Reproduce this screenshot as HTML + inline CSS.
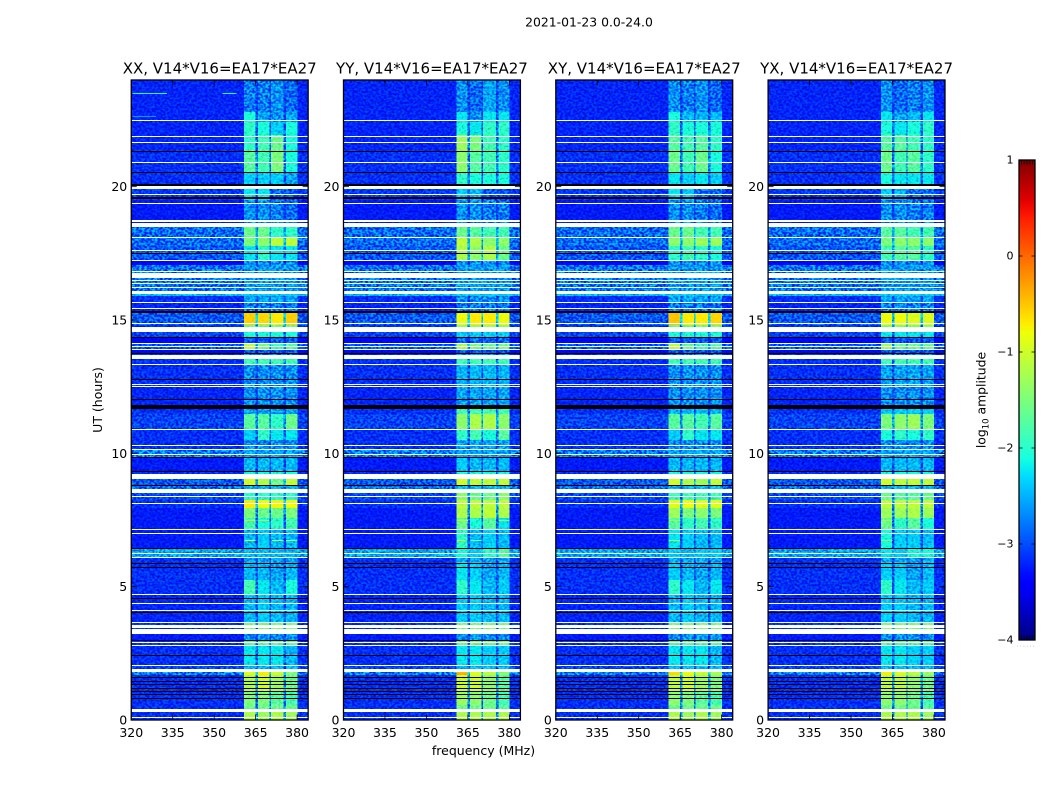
<!DOCTYPE html>
<html lang="en">
<head>
<meta charset="utf-8">
<title>2021-01-23 0.0-24.0</title>
<style>
html,body{margin:0;padding:0;background:#fff;width:1050px;height:800px;overflow:hidden}
svg{display:block}
text{font-family:"DejaVu Sans","Liberation Sans",sans-serif;fill:#000}
</style>
</head>
<body>
<svg id="figure" xmlns="http://www.w3.org/2000/svg" width="1050" height="800" viewBox="0 0 1050 800">
  <defs>
    <filter id="grain" x="0" y="0" width="100%" height="100%" color-interpolation-filters="sRGB">
      <feTurbulence type="fractalNoise" baseFrequency="0.38 0.46" numOctaves="1" seed="7"/>
      <feColorMatrix type="matrix" values="4 0 0 0 -1.5  4 0 0 0 -1.5  4 0 0 0 -1.5  0 0 0 0 1"/>
    </filter>
    <filter id="specks" x="0" y="0" width="100%" height="100%" color-interpolation-filters="sRGB">
      <feTurbulence type="fractalNoise" baseFrequency="0.42 0.5" numOctaves="1" seed="21"/>
      <feColorMatrix type="matrix" values="0 0 0 0 0  0 0 0 0 0  0 0 0 0 0.1  7 0 0 0 -3.9"/>
    </filter>
    <linearGradient id="jet-gradient" x1="0" y1="1" x2="0" y2="0"></linearGradient>
  </defs>
  <text x="589" y="26.5" text-anchor="middle" font-size="12.4">2021-01-23 0.0-24.0</text>
  <g id="panels"></g>
  <text transform="translate(102 400) rotate(-90)" text-anchor="middle" font-size="12.5">UT (hours)</text>
  <text x="483.5" y="755" text-anchor="middle" font-size="12.5">frequency (MHz)</text>
  <g id="colorbar"></g>
  <text transform="translate(985.5 400) rotate(-90)" text-anchor="middle" font-size="12.4">log<tspan font-size="8.5" dy="3">10</tspan><tspan dy="-3"> amplitude</tspan></text>
  <text x="1016.5" y="646.5" font-size="6" letter-spacing="1.35" style="fill:#999">......</text>
</svg>
<script>
// Chart data ---------------------------------------------------------------
const panelTitles = ["XX, V14*V16=EA17*EA27", "YY, V14*V16=EA17*EA27", "XY, V14*V16=EA17*EA27", "YX, V14*V16=EA17*EA27"];
const freqTicks = [320, 335, 350, 365, 380];
const hourTicks = [0, 5, 10, 15, 20];
const colorTicks = [-4, -3, -2, -1, 0, 1];
const colorMinorTicks = [0.16, 0.32, 0.5, 0.68, 0.84];
// Frequency extent of the plot and of the four bright sub-bands (MHz)
const freqRange = [320, 384];
const hourRange = [0, 24];
const subBands = [[360.8, 364.9], [365.8, 370], [370.5, 375.1], [376, 380.1]];
// Upper edge (UT hours) of each horizontal time band
const rowTopHours = [24,22.8,22.43,21.94,21.38,20.55,20.1,19.5,18.49,18.08,17.78,17.25,17.06,16.05,15.9,15.68,15.26,14.81,14.55,14.36,14.14,13.91,13.76,13.54,13.35,12.53,11.66,11.48,10.91,10.5,10.16,9.86,9.3,9.04,8.81,8.51,8.25,7.95,7.58,7.13,6.45,6.11,5.93,5.25,4.73,3.68,3.41,3,2.81,2.06,1.8,1.69,1.05,0.56,0.3];
// Off-band background log10 amplitude for each time band
const backgroundLevels = [-3.05,-3.05,-3.05,-3.05,-3,-3,-2.95,-3.1,-2.7,-2.7,-2.8,-3.2,-2.65,-2.3,-3,-3.05,-2.8,-3,-2.9,-3.2,-2.8,-3.2,-3,-3,-3,-3.05,-3,-2.9,-3,-3,-2.6,-3.1,-3,-2.8,-2.7,-2.9,-3,-3.1,-3.1,-3.1,-2.4,-3,-3,-3,-3.05,-3,-3.1,-3,-3,-2.9,-2.6,-3,-3,-3,-3];
// log10 amplitude in each of the four sub-bands, per time band
const xxLevels = [[-2.6,-2.6,-2.5,-2.7],[-2,-2.4,-2.5,-2.4],[-1.9,-2,-2.2,-2],[-1.9,-1.8,-1.6,-2],[-1.7,-1.8,-1.5,-2],[-2.2,-2.2,-2.2,-2.4],[-2.1,-2.1,-2.7,-2.8],[-2.5,-2.5,-2.6,-2.7],[-1.6,-1.6,-1.9,-1.9],[-1.5,-1.4,-1.1,-1.1],[-2.1,-1.9,-2.1,-2.1],[-2.5,-2.5,-2.5,-2.5],[-2.45,-2.45,-2.45,-2.45],[-2.2,-2.2,-2.2,-2.2],[-2.4,-2.4,-2.4,-2.4],[-2.6,-2.6,-2.6,-2.6],[-0.55,-0.6,-0.7,-0.55],[-1.6,-1.6,-1.6,-1.6],[-2,-2,-2,-2],[-2.8,-2.8,-2.8,-2.8],[-1.1,-1.5,-1.8,-1.7],[-2.8,-2.8,-2.8,-2.8],[-2.6,-2.6,-2.6,-2.6],[-1.8,-1.8,-1.8,-1.8],[-2.5,-2.5,-2.5,-2.5],[-2.5,-2.5,-2.5,-2.5],[-2.4,-2.4,-2.4,-2.4],[-1.7,-1.7,-1.9,-1.6],[-2.2,-1.9,-2.1,-2.1],[-2.5,-2.5,-2.5,-2.5],[-2.4,-2.4,-2.4,-2.4],[-2.3,-2.3,-2.3,-2.3],[-2,-2,-2,-2],[-1,-1.2,-1.6,-1.1],[-2.3,-2.3,-2.3,-2.3],[-1.9,-1.9,-1.9,-1.9],[-0.7,-0.8,-0.75,-0.8],[-1.5,-1.6,-1.6,-1.5],[-1.8,-2,-1.9,-1.8],[-2.3,-2.2,-2.3,-2.3],[-2.3,-2.3,-2.3,-2.3],[-2.4,-2.4,-2.4,-2.4],[-2.3,-2.3,-2.4,-2.3],[-1.8,-2.1,-2.3,-2],[-2.3,-2.2,-2.3,-2.3],[-1.5,-1.5,-1.5,-1.5],[-2.5,-2.5,-2.5,-2.5],[-1.7,-1.7,-1.7,-1.7],[-2.1,-2.1,-2.1,-2.3],[-2.3,-2.3,-2.3,-2.3],[-0.9,-0.7,-1,-1.5],[-1.2,-1,-1.3,-1.6],[-1.5,-1.5,-1.7,-1.8],[-1.6,-1.6,-1.6,-1.6],[-1.2,-1.3,-1.2,-1.3]];
const yyLevels = [[-2.5,-2.7,-2.4,-2.5],[-2.1,-2.5,-2.1,-2.1],[-2,-2.1,-1.9,-1.9],[-1.3,-1.5,-1.8,-1.9],[-1.4,-1.7,-1.8,-1.9],[-1.9,-2,-2,-2],[-2.2,-2.3,-2.8,-2.8],[-2.5,-2.5,-2.6,-2.6],[-1.6,-1.7,-1.8,-1.8],[-1.1,-1.2,-1.4,-1.4],[-1.2,-1.4,-1.2,-1.6],[-2.5,-2.5,-2.5,-2.5],[-2.45,-2.4,-2.45,-2.45],[-2.2,-2.2,-2.2,-2.2],[-2.5,-2.5,-2.5,-2.5],[-2.6,-2.6,-2.6,-2.6],[-0.8,-0.7,-0.7,-0.8],[-1.4,-1.4,-1.4,-1.4],[-2.2,-2.2,-2.2,-2.2],[-2.7,-2.7,-2.7,-2.7],[-1.2,-1.5,-1.6,-1.5],[-2.8,-2.8,-2.8,-2.8],[-2.5,-2.5,-2.5,-2.5],[-1.8,-1.8,-1.8,-1.8],[-2.3,-2.3,-2.3,-2.3],[-2.4,-2.4,-2.4,-2.4],[-1.8,-1.8,-1.8,-1.8],[-1.4,-1.2,-1.2,-1.4],[-1.9,-1.8,-2,-1.7],[-2.4,-2.4,-2.4,-2.4],[-2.4,-2.4,-2.4,-2.4],[-2.2,-2.3,-2.3,-2.3],[-2,-2,-2,-2],[-1,-1.1,-1.1,-1.1],[-2.3,-2.3,-2.3,-2.3],[-1.4,-1.6,-1.6,-1.4],[-1.1,-1.1,-1.1,-1.1],[-1.2,-1.2,-1.1,-1.2],[-1.6,-2,-1.7,-2.1],[-1.9,-2.3,-2.2,-2.3],[-2,-2.2,-1.9,-1.7],[-2.4,-2.4,-2.4,-2.4],[-2.1,-2.2,-2.4,-2.3],[-1.9,-2.1,-2.3,-2.2],[-2.2,-2.2,-2.3,-2.3],[-1.5,-1.5,-1.5,-1.5],[-2.5,-2.5,-2.5,-2.5],[-1.6,-1.6,-1.6,-1.6],[-2.1,-2.1,-2.2,-2.2],[-2.3,-2.3,-2.3,-2.3],[-0.4,-0.9,-1.1,-1.4],[-1,-1,-1.4,-1.7],[-1.3,-1.4,-1.6,-1.8],[-1.6,-1.6,-1.6,-1.7],[-1.2,-1.2,-1.2,-1.2]];
const xyLevels = [[-2.5,-2.6,-2.5,-2.7],[-2,-2.3,-2.3,-2.3],[-1.9,-2,-2,-2],[-1.7,-1.8,-1.7,-1.9],[-1.6,-1.8,-1.6,-2],[-2.1,-2.2,-2.1,-2.2],[-2.1,-2.2,-2.7,-2.7],[-2.5,-2.5,-2.6,-2.7],[-1.6,-1.6,-1.8,-1.8],[-1.4,-1.4,-1.3,-1.3],[-1.9,-1.8,-1.9,-2],[-2.5,-2.5,-2.5,-2.5],[-2.45,-2.45,-2.45,-2.45],[-2.2,-2.2,-2.2,-2.2],[-2.4,-2.4,-2.4,-2.4],[-2.6,-2.6,-2.6,-2.6],[-0.5,-0.7,-0.7,-0.6],[-1.6,-1.6,-1.6,-1.6],[-2,-2,-2,-2],[-2.8,-2.8,-2.8,-2.8],[-1.1,-1.6,-1.8,-1.7],[-2.8,-2.8,-2.8,-2.8],[-2.6,-2.6,-2.6,-2.6],[-1.8,-1.8,-1.8,-1.8],[-2.5,-2.5,-2.5,-2.5],[-2.5,-2.5,-2.5,-2.5],[-2.3,-2.3,-2.3,-2.3],[-1.7,-1.7,-1.8,-1.7],[-2.2,-1.9,-2.1,-2.1],[-2.5,-2.5,-2.5,-2.5],[-2.4,-2.4,-2.4,-2.4],[-2.3,-2.3,-2.3,-2.3],[-2,-2,-2,-2],[-1,-1.2,-1.3,-1.1],[-2.3,-2.3,-2.3,-2.3],[-1.8,-1.8,-1.8,-1.8],[-0.9,-0.8,-0.9,-0.9],[-1.3,-1.5,-1.4,-1.5],[-1.7,-1.9,-1.8,-1.9],[-2.1,-2.2,-2.3,-2.3],[-2.2,-2.3,-2.2,-2.2],[-2.4,-2.4,-2.4,-2.4],[-2.2,-2.3,-2.4,-2.3],[-1.9,-2.1,-2.3,-2.1],[-2.3,-2.2,-2.3,-2.3],[-1.5,-1.5,-1.5,-1.5],[-2.5,-2.5,-2.5,-2.5],[-1.7,-1.7,-1.7,-1.7],[-2.1,-2.1,-2.1,-2.3],[-2.3,-2.3,-2.3,-2.3],[-0.6,-0.8,-1,-1.2],[-1.1,-1,-1.3,-1.5],[-1.4,-1.5,-1.7,-1.8],[-1.6,-1.6,-1.6,-1.6],[-1.2,-1.3,-1.2,-1.3]];
const yxLevels = [[-2.5,-2.7,-2.6,-2.5],[-2.1,-2.4,-2.3,-2.1],[-2,-2.1,-2,-1.9],[-1.7,-1.7,-1.8,-1.9],[-1.6,-1.8,-1.7,-1.9],[-2,-2.1,-2.1,-2.1],[-2.2,-2.3,-2.7,-2.7],[-2.5,-2.5,-2.6,-2.6],[-1.7,-1.7,-1.8,-1.8],[-1.5,-1.4,-1.4,-1.4],[-1.8,-1.7,-1.7,-1.9],[-2.5,-2.5,-2.5,-2.5],[-2.45,-2.45,-2.45,-2.45],[-2.2,-2.2,-2.2,-2.2],[-2.4,-2.4,-2.4,-2.4],[-2.6,-2.6,-2.6,-2.6],[-0.8,-0.8,-0.9,-0.9],[-1.5,-1.5,-1.5,-1.5],[-2.1,-2.1,-2.1,-2.1],[-2.8,-2.8,-2.8,-2.8],[-1.3,-1.6,-1.6,-1.6],[-2.8,-2.8,-2.8,-2.8],[-2.6,-2.6,-2.6,-2.6],[-1.8,-1.8,-1.8,-1.8],[-2.4,-2.4,-2.4,-2.4],[-2.5,-2.5,-2.5,-2.5],[-2.2,-2.2,-2.2,-2.2],[-1.5,-1.4,-1.3,-1.5],[-2,-1.9,-2,-1.9],[-2.5,-2.5,-2.5,-2.5],[-2.4,-2.4,-2.4,-2.4],[-2.3,-2.3,-2.3,-2.3],[-2,-2,-2,-2],[-1,-1.1,-1.1,-1.1],[-2.3,-2.3,-2.3,-2.3],[-1.6,-1.7,-1.7,-1.6],[-1.1,-1.1,-1.1,-1.1],[-1.3,-1.3,-1.2,-1.3],[-1.6,-1.9,-1.7,-2],[-2,-2.2,-2.2,-2.3],[-2.1,-2.2,-2,-2],[-2.4,-2.4,-2.4,-2.4],[-2.2,-2.2,-2.4,-2.3],[-1.9,-2.1,-2.3,-2.2],[-2.2,-2.2,-2.3,-2.3],[-1.5,-1.5,-1.5,-1.5],[-2.5,-2.5,-2.5,-2.5],[-1.7,-1.7,-1.7,-1.7],[-2.1,-2.1,-2.2,-2.2],[-2.3,-2.3,-2.3,-2.3],[-0.7,-0.9,-1.1,-1.3],[-1.1,-1.1,-1.4,-1.6],[-1.4,-1.4,-1.6,-1.8],[-1.6,-1.6,-1.6,-1.7],[-1.2,-1.2,-1.2,-1.3]];
const panelLevels = [xxLevels, yyLevels, xyLevels, yxLevels];
// Narrow interference streaks per panel: [hour, start MHz, end MHz, log10 amplitude]
const xxStreaks = [[23.51,320.5,333,-2.1],[23.51,353,358,-2.1],[22.63,320.5,329,-2.6],[7.5,361,365,-1.1],[7.5,366,370,-1.2],[6.75,361,365,-1.1],[6.75,371,375,-1.3],[6.75,376,380,-1.3]];
const yyStreaks = [[7.5,361,365,-1.2],[7.5,376,380,-1.4],[6.75,361,364,-1],[6.75,366,370,-1.6]];
const xyStreaks = [[7.5,361,365,-1.3],[6.75,361,365,-1.3]];
const yxStreaks = [[7.5,361,365,-1.3],[6.75,361,365,-1.4]];
const panelStreaks = [xxStreaks, yyStreaks, xyStreaks, yxStreaks];
// Flagged (no data) single integrations, UT hours
const flaggedLines = [22.48,21.88,21.66,20.91,19.71,19.37,18.09,17.61,17.23,16.82,16.48,16.37,16.22,16.07,15.66,15.43,14.87,14.12,14.01,13.89,13.33,12.58,12.51,10.89,10.29,10.14,9.96,8.38,8.12,7.14,6.99,6.24,6.09,4.71,4.37,4.11,3.66,2.91,2.79,2.04,0.09];
// Flagged spans [start, end], UT hours
const flaggedSpans = [[19.91,20.03],[18.68,18.75],[18.49,18.64],[16.58,16.76],[15.98,16.05],[14.55,14.74],[13.54,13.69],[9.04,9.23],[8.51,8.66],[3.45,3.56],[3.23,3.41],[1.8,1.91],[0.3,0.41]];
// Zero-amplitude (black) single integrations, UT hours
const zeroLines = [21.32,20.53,17.49,14.34,13.74,12.77,12.02,9.84,9.32,8.79,6.43,5.87,5.72,4.56,4.03,2.98,2.42,1.59,1.44,1.33,1.18,1.07,0.96,0.81];
// Zero-amplitude spans [start, end], UT hours
const zeroSpans = [[20.03,20.1],[19.54,19.61],[15.26,15.34],[11.66,11.81]];
const colorRange = [-4, 1];

// Layout and scales --------------------------------------------------------
const SVG_NS = "http://www.w3.org/2000/svg";
const panelLeft = [131.25, 343.5, 555.8, 768.1];
const panelWidth = 176.9;
const plotTop = 80, plotBottom = 720;
const barLeft = 1019, barRight = 1035, barTop = 160, barBottom = 640;
function xScale(mhz, panel) {
  return panelLeft[panel] + (mhz - freqRange[0]) / (freqRange[1] - freqRange[0]) * panelWidth;
}
function yScale(hour) {
  return plotBottom - (hour - hourRange[0]) / (hourRange[1] - hourRange[0]) * (plotBottom - plotTop);
}
function barScale(level) {
  return barBottom - (level - colorRange[0]) / (colorRange[1] - colorRange[0]) * (barBottom - barTop);
}
function ramp(v, pts) {
  for (let i = 1; i < pts.length; i++) {
    if (v <= pts[i][0]) {
      return pts[i - 1][1] + (pts[i][1] - pts[i - 1][1]) * (v - pts[i - 1][0]) / (pts[i][0] - pts[i - 1][0]);
    }
  }
  return pts[pts.length - 1][1];
}
function jetColor(level) {
  const f = Math.max(0, Math.min(1, (level - colorRange[0]) / (colorRange[1] - colorRange[0])));
  const r = ramp(f, [[0, 0], [0.35, 0], [0.66, 1], [0.89, 1], [1, 0.5]]);
  const g = ramp(f, [[0, 0], [0.125, 0], [0.375, 1], [0.64, 1], [0.91, 0], [1, 0]]);
  const b = ramp(f, [[0, 0.5], [0.11, 1], [0.34, 1], [0.65, 0], [1, 0]]);
  return "rgb(" + Math.round(r * 255) + "," + Math.round(g * 255) + "," + Math.round(b * 255) + ")";
}
// Noise makes low levels look brighter on average once drawn; pull them down a little
function heatColor(level) {
  const shift = level < -1.6 ? 0.14 * Math.min(1, (-1.6 - level) / 0.6) : 0;
  return jetColor(level - shift);
}
// Bright regions of the map are smooth, faint regions are noisy
function smoothness(level) {
  return Math.max(0.12, Math.min(0.85, (level + 2.5) / 1.3));
}
function makeRect(parent, x, y, w, h, fill) {
  const el = document.createElementNS(SVG_NS, "rect");
  el.setAttribute("x", x);
  el.setAttribute("y", y);
  el.setAttribute("width", w);
  el.setAttribute("height", h);
  el.setAttribute("fill", fill);
  parent.appendChild(el);
  return el;
}
function makeLine(parent, x1, y1, x2, y2, width) {
  const el = document.createElementNS(SVG_NS, "line");
  el.setAttribute("x1", x1);
  el.setAttribute("y1", y1);
  el.setAttribute("x2", x2);
  el.setAttribute("y2", y2);
  el.setAttribute("stroke", "#000");
  el.setAttribute("stroke-width", width);
  parent.appendChild(el);
  return el;
}
function makeText(parent, x, y, anchor, size, content) {
  const el = document.createElementNS(SVG_NS, "text");
  el.setAttribute("x", x);
  el.setAttribute("y", y);
  el.setAttribute("text-anchor", anchor);
  el.setAttribute("font-size", size);
  el.textContent = content;
  parent.appendChild(el);
  return el;
}
function makeGroup(parent) {
  const el = document.createElementNS(SVG_NS, "g");
  parent.appendChild(el);
  return el;
}
function tickLabel(v) {
  return v < 0 ? "\u2212" + Math.abs(v) : String(v);
}

// Panels -------------------------------------------------------------------
const panelsRoot = document.getElementById("panels");
panelTitles.forEach(function (title, p) {
  const x0 = xScale(freqRange[0], p), x1 = xScale(freqRange[1], p);
  const levels = panelLevels[p];

  const panel = makeGroup(panelsRoot);
  
  

  const heat = makeGroup(panel);
  
  
  heat.setAttribute("shape-rendering", "crispEdges");
  heat.setAttribute("style", "isolation:isolate");

  rowTopHours.forEach(function (top, r) {
    const yTop = yScale(top);
    const yBot = r + 1 < rowTopHours.length ? yScale(rowTopHours[r + 1]) : yScale(hourRange[0]);
    const bg = backgroundLevels[r];
    const vals = levels[r];
    const mean = (vals[0] + vals[1] + vals[2] + vals[3]) / 4;
    const gapLevel = bg + (mean - bg) * 0.3;

    const bgCell = makeRect(heat, x0, yTop, x1 - x0, yBot - yTop, heatColor(bg));
    
    

    const gapCell = makeRect(heat, xScale(subBands[0][0], p), yTop, xScale(subBands[3][1], p) - xScale(subBands[0][0], p), yBot - yTop, heatColor(gapLevel));
    
    

    subBands.forEach(function (band, b) {
      const cell = makeRect(heat, xScale(band[0], p), yTop, xScale(band[1], p) - xScale(band[0], p), yBot - yTop, heatColor(vals[b]));
      
      
    });
  });

  const grain = makeRect(heat, x0, plotTop, x1 - x0, plotBottom - plotTop, "#808080");
  
  
  grain.setAttribute("filter", "url(#grain)");
  grain.setAttribute("style", "mix-blend-mode:overlay;opacity:.7");

  const darkGrain = makeRect(heat, x0, plotTop, x1 - x0, plotBottom - plotTop, "#000");
  
  
  darkGrain.setAttribute("filter", "url(#specks)");
  darkGrain.setAttribute("style", "opacity:.3");

  rowTopHours.forEach(function (top, r) {
    const yTop = yScale(top);
    const yBot = r + 1 < rowTopHours.length ? yScale(rowTopHours[r + 1]) : yScale(hourRange[0]);
    subBands.forEach(function (band, b) {
      const level = levels[r][b];
      const wash = makeRect(heat, xScale(band[0], p), yTop, xScale(band[1], p) - xScale(band[0], p), yBot - yTop, heatColor(level));
      wash.setAttribute("opacity", smoothness(level));
      
      
    });
  });

  panelStreaks[p].forEach(function (s) {
    const streak = makeRect(heat, xScale(s[1], p), Math.floor(yScale(s[0])), xScale(s[2], p) - xScale(s[1], p), 1, jetColor(s[3]));
    
    
  });

  const flags = makeGroup(panel);
  
  
  flags.setAttribute("shape-rendering", "crispEdges");
  flaggedLines.forEach(function (h) {
    const row = makeRect(flags, x0, Math.floor(yScale(h)), x1 - x0, 1, "#fff");
    
    
  });
  flaggedSpans.forEach(function (s) {
    const row = makeRect(flags, x0, Math.round(yScale(s[1])), x1 - x0, Math.round(yScale(s[0])) - Math.round(yScale(s[1])), "#fff");
    
    
  });
  zeroLines.forEach(function (h) {
    const row = makeRect(flags, x0, Math.floor(yScale(h)), x1 - x0, 1, "#000");
    
    
  });
  zeroSpans.forEach(function (s) {
    const row = makeRect(flags, x0, Math.round(yScale(s[1])), x1 - x0, Math.round(yScale(s[0])) - Math.round(yScale(s[1])), "#000");
    
    
  });

  freqTicks.forEach(function (f) {
    const x = xScale(f, p);
    const tickBottom = makeLine(panel, x, plotBottom, x, plotBottom - 5.5, 0.8);
    
    
    const tickTop = makeLine(panel, x, plotTop, x, plotTop + 5.5, 0.8);
    
    
    const label = makeText(panel, x, plotBottom + 17, "middle", 12.5, String(f));
    
    
  });
  hourTicks.forEach(function (h) {
    const y = yScale(h);
    const tickLeft = makeLine(panel, x0, y, x0 + 5.5, y, 0.8);
    
    
    const tickRight = makeLine(panel, x1, y, x1 - 5.5, y, 0.8);
    
    
    const label = makeText(panel, x0 - 4, y + 4.5, "end", 12.5, String(h));
    
    
  });

  const frame = makeRect(panel, x0, plotTop, x1 - x0, plotBottom - plotTop, "none");
  frame.setAttribute("stroke", "#000");
  frame.setAttribute("stroke-width", "1.3");
  
  

  const titleEl = makeText(panel, (x0 + x1) / 2, 73.5, "middle", 15, title);
  
  
});

// Colorbar -----------------------------------------------------------------
const grad = document.getElementById("jet-gradient");
for (let i = 0; i <= 50; i++) {
  const stop = document.createElementNS(SVG_NS, "stop");
  stop.setAttribute("offset", (i / 50));
  stop.setAttribute("stop-color", jetColor(colorRange[0] + (colorRange[1] - colorRange[0]) * i / 50));
  grad.appendChild(stop);
}
const bar = document.getElementById("colorbar");
const barFill = makeRect(bar, barLeft, barTop, barRight - barLeft, barBottom - barTop, "url(#jet-gradient)");


colorTicks.forEach(function (level) {
  const y = barScale(level);
  const left = makeLine(bar, barLeft, y, barLeft + 3.5, y, 0.8);
  
  
  const right = makeLine(bar, barRight, y, barRight - 3.5, y, 0.8);
  
  
  const label = makeText(bar, barLeft - 5.5, y + 3.5, "end", 11, tickLabel(level));
  
  
});
colorMinorTicks.forEach(function (t) {
  const x = barLeft + t * (barRight - barLeft);
  const up = makeLine(bar, x, barTop, x, barTop + 4.5, 0.8);
  
  
  const down = makeLine(bar, x, barBottom, x, barBottom - 4.5, 0.8);
  
  
});
const barFrame = makeRect(bar, barLeft, barTop, barRight - barLeft, barBottom - barTop, "none");
barFrame.setAttribute("stroke", "#000");
barFrame.setAttribute("stroke-width", "1.3");


</script>
</body>
</html>
